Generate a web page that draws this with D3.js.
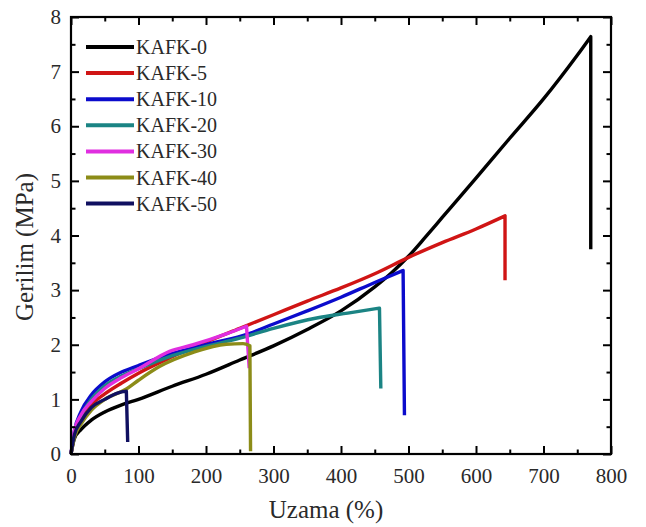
<!DOCTYPE html>
<html><head><meta charset="utf-8">
<script src="https://cdn.jsdelivr.net/npm/d3@7/dist/d3.min.js"></script>
<style>body{margin:0;background:#fff}svg{display:block}</style>
</head><body><svg id="c" width="646" height="527" font-family="'Liberation Serif', 'DejaVu Serif', serif"></svg>
<script>
const seriesNames = ["KAFK-0","KAFK-5","KAFK-10","KAFK-20","KAFK-30","KAFK-40","KAFK-50"];
const seriesColors = ["#000000","#d01515","#0b0bcc","#1b8484","#e02ee0","#8c8c18","#101060"];
const xTicks = [0,100,200,300,400,500,600,700,800];
const yTicks = [0,1,2,3,4,5,6,7,8];
// curve points [elongation %, stress MPa]; last point = drop after break
const kafk0 = [[0,0],[5,0.28],[15,0.45],[30,0.62],[50,0.77],[75,0.9],[100,1.0],[150,1.24],[200,1.46],[250,1.72],[300,1.98],[350,2.28],[400,2.62],[450,3.06],[475,3.32],[500,3.62],[525,3.97],[550,4.33],[600,5.05],[650,5.78],[700,6.5],[750,7.3],[770,7.64]];
const kafk0Drop = [770,3.75];
const kafk5 = [[0,0],[5,0.35],[15,0.65],[30,0.9],[50,1.1],[75,1.3],[100,1.48],[150,1.78],[200,2.05],[250,2.3],[300,2.55],[350,2.8],[400,3.04],[450,3.3],[500,3.6],[550,3.87],[600,4.12],[643,4.36]];
const kafk5Drop = [643,3.18];
const kafk10 = [[0,0],[5,0.42],[15,0.78],[30,1.08],[50,1.32],[75,1.5],[100,1.62],[150,1.84],[200,2.0],[265,2.21],[300,2.38],[350,2.62],[400,2.87],[450,3.14],[492,3.36]];
const kafk10Drop = [494,0.71];
const kafk20 = [[0,0],[5,0.38],[15,0.7],[30,1.0],[50,1.25],[75,1.43],[100,1.56],[150,1.8],[200,1.97],[250,2.12],[300,2.3],[364,2.49],[410,2.58],[457,2.67]];
const kafk20Drop = [459,1.2];
const kafk30 = [[0,0],[5,0.42],[15,0.72],[30,0.96],[50,1.2],[75,1.4],[100,1.56],[146,1.88],[181,2.0],[230,2.2],[260,2.34]];
const kafk30Drop = [264,1.57];
const kafk40 = [[0,0],[5,0.3],[15,0.55],[30,0.8],[50,1.0],[82,1.19],[100,1.35],[131,1.6],[181,1.86],[230,2.01],[255,2.02],[265,1.98]];
const kafk40Drop = [266,0.05];
const kafk50 = [[0,0],[5,0.35],[15,0.6],[30,0.85],[50,1.0],[70,1.12],[82,1.15]];
const kafk50Drop = [84,0.22];

const curves = [kafk0,kafk5,kafk10,kafk20,kafk30,kafk40,kafk50];
const drops = [kafk0Drop,kafk5Drop,kafk10Drop,kafk20Drop,kafk30Drop,kafk40Drop,kafk50Drop];
const FONT = "'Liberation Serif', 'DejaVu Serif', serif";
const TXT = "#2a2a2a";

const L=71,R=611,T=17,B=454;
const svg=d3.select("#c");
const x=d3.scaleLinear().domain([0,800]).range([L,R]);
const y=d3.scaleLinear().domain([0,8]).range([B,T]);

const line=d3.line().x(d=>x(d[0])).y(d=>y(d[1])).curve(d3.curveMonotoneX);
const g=svg.append("g");
curves.forEach((c,i)=>{
  const p=line(c)+"L"+x(drops[i][0])+","+y(drops[i][1]);
  g.append("path").attr("d",p).attr("fill","none").attr("stroke",seriesColors[i])
   .attr("stroke-width",3.4).attr("stroke-linejoin","round");
});

// axes with inward ticks on all sides
const xMinor=d3.range(50,800,100), yMinor=d3.range(0.5,8,1);
function ax(axisFn, scale, ticks, minor, tr, labels){
  const a=svg.append("g").attr("transform",tr);
  a.call(axisFn(scale).tickValues(ticks).tickSizeInner(-8).tickSizeOuter(0).tickPadding(labels?14:0).tickFormat(labels?d3.format("d"):""));
  a.attr("font-family",FONT).attr("font-size",21);
  a.selectAll(".tick line").attr("stroke","#000").attr("stroke-width",2);
  const m=svg.append("g").attr("transform",tr);
  m.call(axisFn(scale).tickValues(minor).tickSizeInner(-4.5).tickSizeOuter(0).tickFormat(""));
  m.select(".domain").remove();
  m.selectAll(".tick line").attr("stroke","#000").attr("stroke-width",2);
  a.select(".domain").remove();
  a.selectAll("text").attr("fill",TXT).attr("font-family",FONT).attr("font-size",21);
  return a;
}
ax(d3.axisBottom,x,xTicks,xMinor,`translate(0,${B})`,true);
ax(d3.axisTop,x,xTicks,xMinor,`translate(0,${T})`,false);
const ya=ax(d3.axisLeft,y,yTicks,yMinor,`translate(${L},0)`,true);
ax(d3.axisRight,y,yTicks,yMinor,`translate(${R},0)`,false);
ya.selectAll("text").attr("dx",4);
svg.append("rect").attr("x",L).attr("y",T).attr("width",R-L).attr("height",B-T)
  .attr("fill","none").attr("stroke","#000").attr("stroke-width",2.2);

// axis titles
svg.append("text").attr("x",326).attr("y",518).attr("text-anchor","middle").attr("font-size",25)
  .attr("font-family",FONT).attr("fill",TXT).text("Uzama (%)");
svg.append("text").attr("transform","translate(33,247) rotate(-90)").attr("text-anchor","middle").attr("font-size",25)
  .attr("font-family",FONT).attr("fill",TXT).text("Gerilim (MPa)");

// legend
const lg=svg.append("g");
seriesNames.forEach((n,i)=>{
  const yy=47+26.1*i;
  lg.append("line").attr("x1",86).attr("x2",134).attr("y1",yy).attr("y2",yy).attr("stroke",seriesColors[i]).attr("stroke-width",4);
  lg.append("text").attr("x",136).attr("y",yy+7).attr("font-size",20).attr("font-family",FONT).attr("fill",TXT).text(n);
});
</script></body></html>
